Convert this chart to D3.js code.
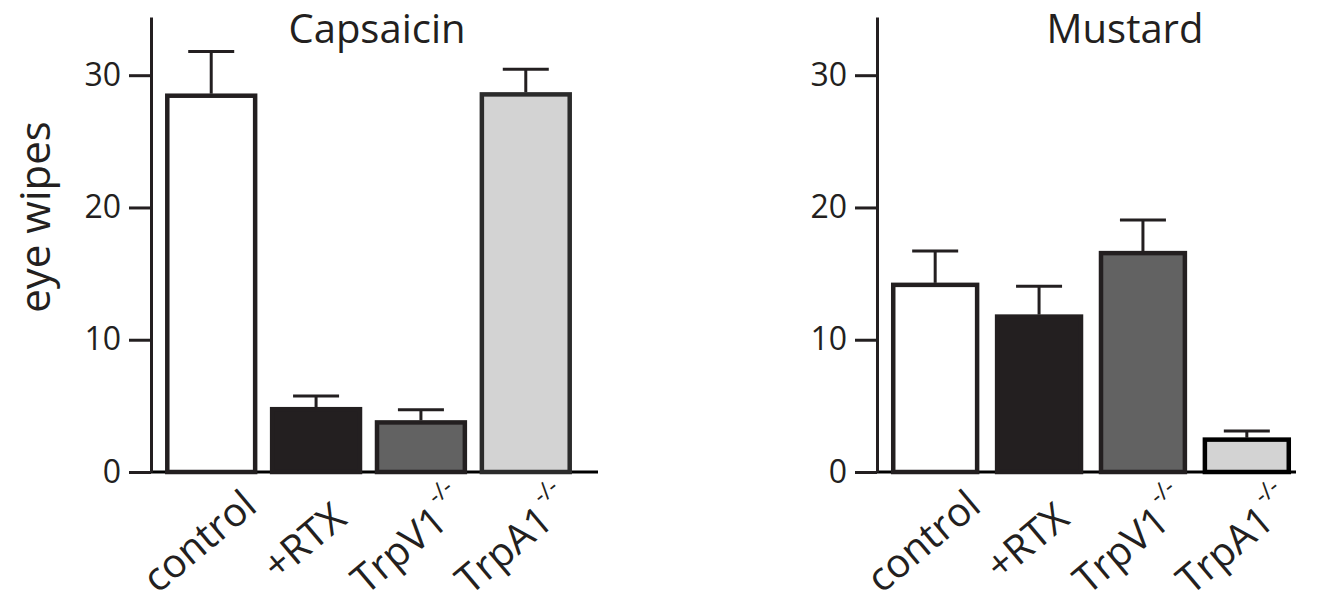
<!DOCTYPE html>
<html>
<head>
<meta charset="utf-8">
<script src="https://cdn.jsdelivr.net/npm/d3@7"></script>
<style>
  body { margin: 0; background: #fff; }
  text { font-family: "Open Sans", "Noto Sans", sans-serif; fill: #231f20; }
</style>
</head>
<body>
<div id="container"></div>
<script>
var width = 1332,
    height = 611;

// data
var categories = ['control', '+RTX', 'TrpV1', 'TrpA1'];
var superscripts = ['', '', '-/-', '-/-'];
var capsaicin_mean = [28.6, 4.9, 3.9, 28.7];
var capsaicin_err = [3.2, 0.85, 0.8, 1.75];
var mustard_mean = [14.3, 11.9, 16.7, 2.6];
var mustard_err = [2.4, 2.15, 2.35, 0.5];
var y_ticks = [0, 10, 20, 30];
var fills = ['#ffffff', '#231f20', '#626262', '#d3d3d3'];

var svg = d3.select('#container')
    .append('svg')
    .attr('width', width)
    .attr('height', height);

var scale_y = d3.scaleLinear()
    .domain([0, 34.4])
    .range([472, 17]);

function drawPanel(opt) {
    var g = svg.append('g');
    var scale_x = d3.scaleBand()
        .domain(categories)
        .range([opt.x0, opt.x1])
        .paddingInner(opt.pad)
        .paddingOuter(0.06);

    // x baseline
    g.append('line')
        .attr('x1', opt.axisX).attr('x2', opt.xEnd)
        .attr('y1', scale_y(0)).attr('y2', scale_y(0))
        .attr('stroke', '#000').attr('stroke-width', 3);

    // y axis
    var y_axis = d3.axisLeft(scale_y)
        .tickValues(y_ticks)
        .tickSize(22)
        .tickSizeOuter(0)
        .tickPadding(8);
    var ya = g.append('g')
        .attr('transform', 'translate(' + opt.axisX + ',0)')
        .call(y_axis);
    ya.select('.domain').attr('stroke', '#231f20').attr('stroke-width', 3);
    ya.selectAll('.tick line').attr('stroke', '#231f20').attr('stroke-width', 3);
    ya.selectAll('.tick text')
        .attr('font-size', 32)
        .attr('font-family', '"Open Sans", sans-serif')
        .attr('fill', '#231f20');

    // error bars
    var eb = g.selectAll('.err')
        .data(categories)
        .enter().append('g');
    eb.append('line')
        .attr('x1', function (d) { return scale_x(d) + scale_x.bandwidth() / 2; })
        .attr('x2', function (d) { return scale_x(d) + scale_x.bandwidth() / 2; })
        .attr('y1', function (d, i) { return scale_y(opt.mean[i]); })
        .attr('y2', function (d, i) { return scale_y(opt.mean[i] + opt.err[i]); })
        .attr('stroke', '#231f20').attr('stroke-width', 3);
    eb.append('line')
        .attr('x1', function (d) { return scale_x(d) + scale_x.bandwidth() / 2 - 23; })
        .attr('x2', function (d) { return scale_x(d) + scale_x.bandwidth() / 2 + 23; })
        .attr('y1', function (d, i) { return scale_y(opt.mean[i] + opt.err[i]); })
        .attr('y2', function (d, i) { return scale_y(opt.mean[i] + opt.err[i]); })
        .attr('stroke', '#231f20').attr('stroke-width', 3);

    // bars
    g.selectAll('.bar')
        .data(categories)
        .enter().append('rect')
        .attr('x', function (d) { return scale_x(d) + 2; })
        .attr('width', scale_x.bandwidth() - 4)
        .attr('y', function (d, i) { return scale_y(opt.mean[i]) + 2; })
        .attr('height', function (d, i) { return scale_y(0) - scale_y(opt.mean[i]) - 2; })
        .attr('fill', function (d, i) { return fills[i]; })
        .attr('stroke', function (d, i) { return opt.strokes[i]; })
        .attr('stroke-width', 4.5);

    // x labels
    var lab = g.selectAll('.xlab')
        .data(categories)
        .enter().append('text')
        .attr('text-anchor', 'middle')
        .attr('font-size', 40)
        .attr('transform', function (d) {
            return 'translate(' + (scale_x(d) + scale_x.bandwidth() / 2 - 3) + ',552) rotate(-40)';
        });
    lab.append('tspan').text(function (d) { return d; });
    lab.append('tspan')
        .attr('font-size', 24)
        .attr('dy', -24)
        .attr('dx', 2)
        .text(function (d, i) { return superscripts[i]; });

    // title
    g.append('text')
        .attr('x', opt.titleX)
        .attr('y', 43)
        .attr('text-anchor', 'middle')
        .attr('font-size', 40)
        .text(opt.title);
}

drawPanel({
    title: 'Capsaicin', titleX: 377,
    mean: capsaicin_mean, err: capsaicin_err,
    axisX: 151, xEnd: 598, x0: 159, x1: 578, pad: 0.124,
    strokes: ['#231f20', '#231f20', '#231f20', '#2b2b2b']
});
drawPanel({
    title: 'Mustard', titleX: 1125,
    mean: mustard_mean, err: mustard_err,
    axisX: 877, xEnd: 1296, x0: 885, x1: 1297, pad: 0.154,
    strokes: ['#231f20', '#231f20', '#231f20', '#000000']
});

// y title
svg.append('text')
    .attr('transform', 'translate(50,217) rotate(-90)')
    .attr('text-anchor', 'middle')
    .attr('font-size', 42)
    .text('eye wipes');
</script>
</body>
</html>
